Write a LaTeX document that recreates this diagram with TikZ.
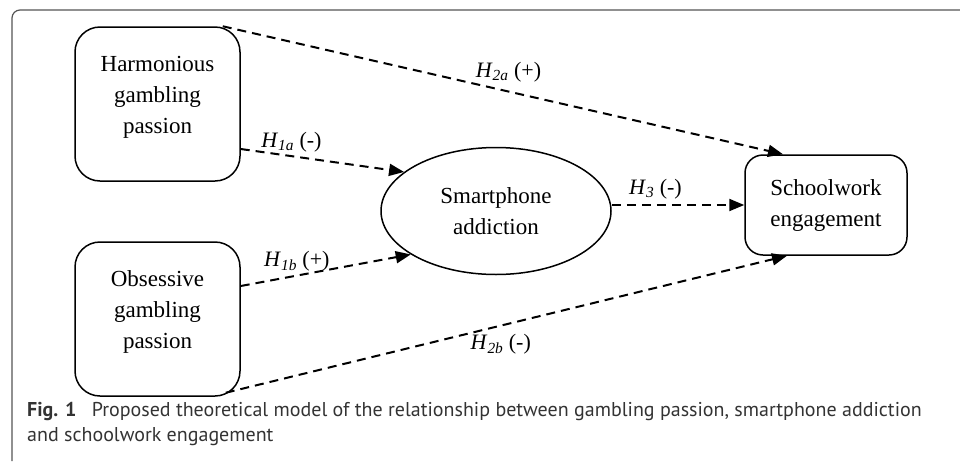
\documentclass[tikz,border=0pt]{standalone}
\usepackage{fontspec}
\setmainfont{Liberation Serif}
\newfontfamily\capfont{PT Sans}
\usetikzlibrary{shapes.geometric,arrows.meta}

\definecolor{framegray}{HTML}{555555}
\definecolor{capgray}{HTML}{333333}

\tikzset{
  varbox/.style={draw, line width=1.5pt, rounded corners=25pt, align=center,
    minimum width=165pt, minimum height=154pt,
    font=\fontsize{23}{31}\selectfont},
  path/.style={draw, line width=2pt, dash pattern=on 9pt off 6pt,
    -{Triangle[length=15pt,width=12pt]}},
  hyp/.style={font=\fontsize{22}{26}\selectfont, inner sep=2pt}
}

\newcommand{\hname}[1]{\textit{H}\textsubscript{\textit{#1}}}

\begin{document}
\begin{tikzpicture}[x=1pt,y=-1pt]
  \useasboundingbox (0,0) rectangle (960,461);
  \draw[framegray, line width=1.2pt, rounded corners=8pt] (12,461) -- (12,10) -- (960,10);

  \node[varbox, text depth=19pt] (harm) at (157.5,104) {Harmonious\\gambling\\passion};
  \node[varbox, text depth=19pt] (obs) at (157.5,319) {Obsessive\\gambling\\passion};
  \node[draw, line width=1.5pt, ellipse, inner sep=0pt, minimum width=230pt,
    minimum height=127pt, align=center, font=\fontsize{23}{31}\selectfont]
    (smart) at (496,211) {Smartphone\\addiction};
  \node[varbox, rounded corners=18pt, minimum width=162pt, minimum height=100pt]
    (school) at (826,205) {Schoolwork\\engagement};

  \draw[path] ([xshift=-18pt]harm.north east) -- ([xshift=-43pt]school.north)
    node[hyp, pos=0.51, above=6pt] (h2a) {\hname{2a} (+)};
  \draw[path] ([yshift=-45pt]harm.east) -- (smart.157)
    node[hyp, pos=0.31, above=1pt] (h1a) {\hname{1a} (-)};
  \draw[path] ([yshift=33pt]obs.east) -- (smart.207)
    node[hyp, pos=0.33, above=1pt] (h1b) {\hname{1b} (+)};
  \draw[path] (smart.east |- school.west) -- (school.west)
    node[hyp, pos=0.33, above=3pt] (h3) {\hname{3} (-)};
  \draw[path] ([xshift=-15pt,yshift=4pt]obs.south east) -- ([xshift=-39pt]school.south)
    node[hyp, pos=0.49, below=6pt] (h2b) {\hname{2b} (-)};

  \node[anchor=north west, align=left, text=capgray, inner sep=0pt,
    font=\capfont\fontsize{20}{25}\selectfont] (cap) at (27,402)
    {\textbf{Fig. 1}\enspace\ Proposed theoretical model of the relationship between gambling passion, smartphone addiction\\
     and schoolwork engagement};
\end{tikzpicture}
\end{document}
